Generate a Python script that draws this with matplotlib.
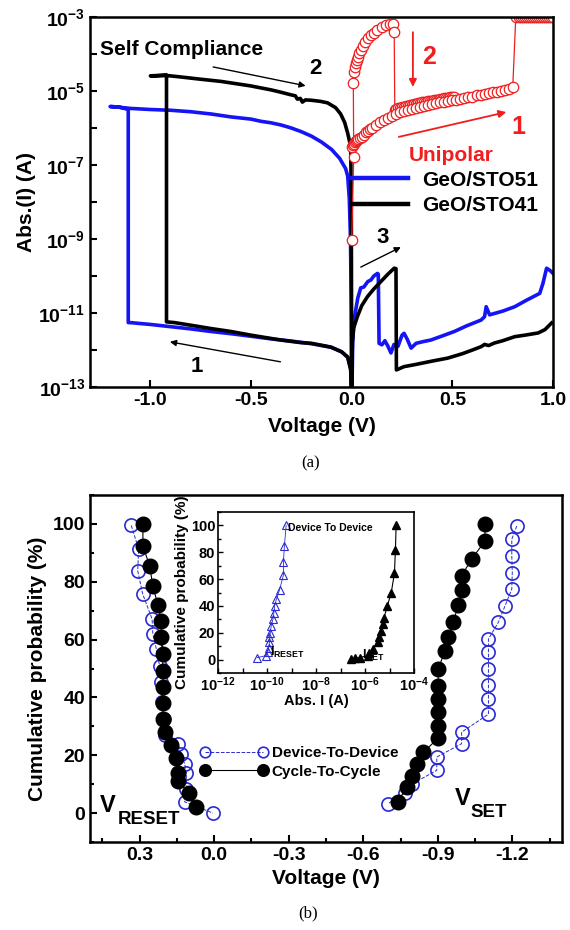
import matplotlib
matplotlib.use('Agg')
import matplotlib.pyplot as plt
import numpy as np
from matplotlib.ticker import FixedLocator, FuncFormatter, MultipleLocator, NullLocator

plt.rcParams['font.family'] = ['Liberation Sans', 'DejaVu Sans']
plt.rcParams['font.weight'] = 'bold'
plt.rcParams['axes.labelweight'] = 'bold'
plt.rcParams['axes.unicode_minus'] = False
plt.rcParams['mathtext.fontset'] = 'custom'
plt.rcParams['mathtext.rm'] = 'Liberation Sans:bold'
plt.rcParams['mathtext.bf'] = 'Liberation Sans:bold'
plt.rcParams['mathtext.it'] = 'Liberation Sans:bold'

# ---------------- panel (a): I-V curves, current given as log10(|I|) ----------------
# GeO/STO51 (blue): HRS 0 -> -1.2, set, LRS back to 0, then positive sweep
sto51_v = [0.0, -0.005, -0.02, -0.05, -0.1, -0.2, -0.3, -0.4, -0.5, -0.6, -0.7, -0.8, -0.9, -1.0, -1.1, -1.11,
           -1.11, -1.15, -1.2,
           -1.19, -1.1, -1.0, -0.9, -0.8, -0.7, -0.6, -0.5, -0.45, -0.4, -0.35, -0.3, -0.25, -0.2, -0.15, -0.1,
           -0.06, -0.03, -0.02, -0.012, -0.006, -0.002, 0.0,
           0.005, 0.01, 0.02, 0.03, 0.045, 0.06, 0.08, 0.095, 0.11, 0.128, 0.132,
           0.136, 0.15, 0.165, 0.18, 0.195, 0.21, 0.23, 0.25, 0.26, 0.275, 0.295, 0.32, 0.35, 0.394, 0.45,
           0.51, 0.57, 0.643, 0.66, 0.668, 0.685, 0.75, 0.81, 0.87, 0.934, 0.95, 0.968, 0.985, 1.0]
sto51_log = [-13.5, -12.5, -12.2, -12.05, -11.93, -11.83, -11.76, -11.7, -11.63, -11.56, -11.5, -11.43, -11.37,
             -11.31, -11.26, -11.26,
             -5.5, -5.44, -5.42,
             -5.42, -5.47, -5.5, -5.52, -5.56, -5.62, -5.7, -5.76, -5.82, -5.86, -5.92, -6.0, -6.1, -6.22, -6.38,
             -6.58, -6.82, -7.1, -7.3, -7.9, -9.0, -11.0, -13.5,
             -11.8, -11.3, -10.92, -10.6, -10.32, -10.3, -10.15, -10.11, -10.0, -9.93, -9.95,
             -11.82, -11.86, -11.75, -11.9, -12.08, -11.85, -11.9, -11.6, -11.55, -11.7, -11.95, -11.82, -11.78,
             -11.73, -11.62, -11.5, -11.35, -11.19, -11.1, -10.83, -11.05, -10.95, -10.83, -10.65, -10.47, -10.2,
             -9.79, -9.85, -9.93]

# GeO/STO41 (black)
sto41_v = [0.0, -0.005, -0.02, -0.05, -0.105, -0.2, -0.254, -0.354, -0.5, -0.6, -0.7, -0.8, -0.88, -0.92,
           -0.92, -0.96, -1.0,
           -0.98, -0.92, -0.85, -0.753, -0.65, -0.504, -0.4, -0.354, -0.304, -0.28, -0.27, -0.255, -0.245, -0.23,
           -0.2, -0.155, -0.12, -0.08, -0.055, -0.035, -0.02, -0.005, -0.002, 0.0,
           0.003, 0.01, 0.028, 0.05, 0.078, 0.11, 0.145, 0.18, 0.211, 0.22,
           0.222, 0.26, 0.31, 0.4, 0.477, 0.55, 0.6, 0.643, 0.66, 0.68, 0.71, 0.75, 0.81, 0.86, 0.926, 0.96, 0.993]
sto41_log = [-13.2, -12.54, -12.19, -12.05, -11.92, -11.82, -11.8, -11.73, -11.6, -11.5, -11.42, -11.33, -11.26,
             -11.24,
             -4.57, -4.58, -4.59,
             -4.59, -4.58, -4.62, -4.68, -4.74, -4.86, -4.97, -5.03, -5.1, -5.13, -5.22, -5.2, -5.3, -5.24,
             -5.25, -5.28, -5.32, -5.45, -5.62, -5.85, -6.14, -6.5, -8.0, -13.2,
             -11.8, -11.4, -11.1, -10.8, -10.56, -10.35, -10.15, -9.95, -9.79, -9.8,
             -12.54, -12.45, -12.4, -12.3, -12.22, -12.1, -12.0, -11.91, -11.85, -11.88, -11.81, -11.75, -11.64,
             -11.6, -11.54, -11.45, -11.27]

# unipolar (red): reset sweep and set sweep
uni_reset_v = [0.0, 0.01, 0.008, 0.012, 0.016, 0.02, 0.025, 0.03, 0.036, 0.045, 0.055, 0.065, 0.08, 0.095, 0.11,
               0.128, 0.15, 0.17, 0.19, 0.203, 0.211, 0.214,
               0.22, 0.23, 0.24, 0.25, 0.26, 0.27, 0.28, 0.29, 0.30, 0.31, 0.32, 0.33, 0.34, 0.35, 0.36, 0.37,
               0.38, 0.39, 0.40, 0.41, 0.42, 0.43, 0.44, 0.45, 0.46, 0.47, 0.48, 0.49, 0.50, 0.51]
uni_reset_log = [-9.03, -6.78, -4.79, -4.48, -4.35, -4.25, -4.15, -4.07, -3.98, -3.88, -3.78, -3.68, -3.58, -3.49,
                 -3.42, -3.35, -3.28, -3.22, -3.19, -3.18, -3.40, -5.51,
                 -5.49, -5.47, -5.46, -5.44, -5.43, -5.41, -5.40, -5.38, -5.37, -5.36, -5.35, -5.33, -5.32, -5.31,
                 -5.30, -5.29, -5.28, -5.27, -5.26, -5.25, -5.24, -5.23, -5.22, -5.21, -5.20, -5.19, -5.18, -5.17,
                 -5.16, -5.15]
uni_set_v = [0.003, 0.006, 0.01, 0.015, 0.02, 0.025, 0.03, 0.04, 0.05, 0.06, 0.07, 0.08, 0.09, 0.10, 0.12, 0.14,
             0.16, 0.18, 0.20, 0.22, 0.24, 0.26, 0.28, 0.30, 0.32, 0.34, 0.36, 0.38, 0.40, 0.42, 0.44, 0.46, 0.48,
             0.50, 0.52, 0.54, 0.56, 0.58, 0.60, 0.62, 0.64, 0.66, 0.68, 0.70, 0.72, 0.74, 0.76, 0.78, 0.80,
             0.815, 0.83, 0.84, 0.85, 0.86, 0.87, 0.88, 0.89, 0.90, 0.91, 0.92, 0.93, 0.94, 0.95, 0.96, 0.97,
             0.98, 0.99, 1.0]
uni_set_log = [-6.50, -6.46, -6.42, -6.38, -6.35, -6.32, -6.30, -6.27, -6.24, -6.18, -6.12, -6.07, -6.03, -6.00,
               -5.92, -5.85, -5.78, -5.72, -5.67, -5.62, -5.58, -5.54, -5.51, -5.48, -5.45, -5.42, -5.40, -5.37,
               -5.35, -5.33, -5.31, -5.29, -5.27, -5.25, -5.23, -5.21, -5.19, -5.17, -5.15, -5.12, -5.10, -5.08,
               -5.06, -5.04, -5.02, -5.00, -4.97, -4.94, -4.90,
               -3.0, -3.0, -3.0, -3.0, -3.0, -3.0, -3.0, -3.0, -3.0, -3.0, -3.0, -3.0, -3.0, -3.0, -3.0, -3.0,
               -3.0, -3.0, -3.0]

# ---------------- panel (b): cumulative probability ----------------
d2d_reset_v = [0.334, 0.304, 0.308, 0.288, 0.25, 0.247, 0.233, 0.22, 0.213, 0.209, 0.204, 0.2, 0.146, 0.133,
               0.119, 0.112, 0.112, 0.119, 0.005]
d2d_reset_p = [99.5, 91.3, 83.8, 75.8, 67.1, 62, 56.8, 51, 45.3, 38.4, 32.6, 26.9, 24, 20.6, 17, 14, 8.5, 3.9, 0]
c2c_reset_v = [0.287, 0.287, 0.26, 0.247, 0.227, 0.213, 0.213, 0.207, 0.207, 0.207, 0.207, 0.207, 0.2, 0.173,
               0.153, 0.146, 0.146, 0.1, 0.072]
c2c_reset_p = [100, 92.4, 85.5, 78.6, 72, 66.5, 61, 55, 49, 43.5, 38, 32.6, 28, 23.4, 18.9, 14, 11, 6.8, 2]
d2d_set_v = [-1.218, -1.198, -1.198, -1.2, -1.198, -1.171, -1.144, -1.104, -1.104, -1.104, -1.104, -1.104,
             -1.104, -0.996, -0.996, -0.896, -0.896, -0.795, -0.77, -0.70]
d2d_set_p = [99.3, 94.7, 89, 83.2, 77.5, 71.7, 66, 60.2, 55.6, 50, 44.3, 39.5, 34.2, 28, 24, 19.4, 14.8, 10, 7,
             3.3]
c2c_set_v = [-1.09, -1.09, -1.037, -0.996, -0.996, -0.983, -0.962, -0.942, -0.929, -0.902, -0.902, -0.902,
             -0.902, -0.902, -0.902, -0.842, -0.815, -0.795, -0.775, -0.74]
c2c_set_p = [100, 94, 88, 82, 77, 72, 66, 61, 56, 50, 44, 39.5, 35, 30, 26, 21, 17, 13, 9, 4]

# inset: log10(I) vs cumulative probability
ireset_log = [-9.22, -9.29, -9.33, -9.33, -9.49, -9.62, -9.69, -9.72, -9.76, -9.83, -9.87, -9.9, -9.9, -9.93,
              -9.97, -10.03, -10.4]
ireset_p = [100, 85, 73, 63, 52, 45, 40, 35, 30, 25, 20, 17, 13, 9, 6, 3, 1.5]
iset_log = [-4.73, -4.76, -4.80, -4.93, -5.09, -5.23, -5.27, -5.34, -5.41, -5.48, -5.68, -5.82, -5.89, -6.22,
            -6.43, -6.56]
iset_p = [100.5, 82, 64.5, 50, 40, 31, 26.5, 21.5, 17, 13, 8, 5, 3, 1.5, 1, 0.5]

blue = '#1414f5'
blue2 = '#2a2ad2'
red = '#f01e1e'

fig = plt.figure(figsize=(5.7, 9.3), dpi=100)

# ---------------- (a) ----------------
ax1 = fig.add_axes([0.1579, 0.5839, 0.8123, 0.3978])
ax1.plot(sto51_v, np.power(10.0, sto51_log), color=blue, lw=2.6, label='GeO/STO51')
ax1.plot(sto41_v, np.power(10.0, sto41_log), color='k', lw=2.6, label='GeO/STO41')
ax1.plot(uni_reset_v, np.power(10.0, uni_reset_log), color=red, lw=0.9, marker='o', ms=7.5,
         mfc='white', mec=red, mew=0.9)
ax1.plot(uni_set_v, np.power(10.0, uni_set_log), color=red, lw=0.9, marker='o', ms=7.5,
         mfc='white', mec=red, mew=0.9)
ax1.set_yscale('log')
ax1.set_xlim(-1.3, 1.0)
ax1.set_ylim(1e-13, 1e-3)
ax1.xaxis.set_major_locator(FixedLocator([-1.0, -0.5, 0.0, 0.5, 1.0]))
ax1.xaxis.set_major_formatter(FuncFormatter(lambda v, p: f'{v:.1f}'))
ax1.yaxis.set_major_locator(FixedLocator([10.0 ** e for e in range(-13, -2)]))
ax1.yaxis.set_minor_locator(NullLocator())


def odd_exp(v, p):
    e = int(round(np.log10(v)))
    return r'$10^{%d}$' % e if e % 2 else ''


ax1.yaxis.set_major_formatter(FuncFormatter(odd_exp))
ax1.tick_params(direction='in', length=5, width=1.5, labelsize=14, top=False, right=False)
for s in ax1.spines.values():
    s.set_linewidth(1.8)
ax1.set_xlabel('Voltage (V)', fontsize=15, labelpad=6)
ax1.set_ylabel('Abs.(I) (A)', fontsize=15, labelpad=2)

leg1 = ax1.legend(loc='upper left', bbox_to_anchor=(0.566, 0.585), frameon=False, fontsize=15,
                  handlelength=2.7, handletextpad=0.65, labelspacing=0.3, borderpad=0, borderaxespad=0)
for h in leg1.get_lines():
    h.set_linewidth(3.2)

arr_k = dict(arrowstyle='-|>', color='k', lw=1.0, mutation_scale=9, shrinkA=0, shrinkB=0)
arr_r = dict(arrowstyle='-|>', color=red, lw=1.3, mutation_scale=11, shrinkA=0, shrinkB=0)
ax1.text(-1.25, 10 ** -3.89, 'Self Compliance', fontsize=15, va='center', ha='left')
ax1.annotate('', xy=(-0.229, 10 ** -4.86), xytext=(-0.688, 10 ** -4.35), arrowprops=arr_k)
ax1.text(-0.18, 10 ** -4.38, '2', fontsize=16, va='center', ha='center')
ax1.annotate('', xy=(-0.903, 10 ** -11.78), xytext=(-0.354, 10 ** -12.32), arrowprops=arr_k)
ax1.text(-0.768, 10 ** -12.46, '1', fontsize=16, va='center', ha='center')
ax1.annotate('', xy=(0.244, 10 ** -9.22), xytext=(0.045, 10 ** -9.76), arrowprops=arr_k)
ax1.text(0.155, 10 ** -8.97, '3', fontsize=16, va='center', ha='center')
ax1.annotate('', xy=(0.304, 10 ** -4.89), xytext=(0.304, 10 ** -3.41), arrowprops=arr_r)
ax1.text(0.384, 10 ** -4.08, '2', fontsize=18, va='center', ha='center', color=red)
ax1.annotate('', xy=(0.768, 10 ** -5.57), xytext=(0.234, 10 ** -6.24), arrowprops=arr_r)
ax1.text(0.828, 10 ** -5.97, '1', fontsize=18, va='center', ha='center', color=red)
ax1.text(0.284, 10 ** -6.73, 'Unipolar', fontsize=15, va='center', ha='left', color=red)

fig.text(0.544, 1 - 463 / 930, '(a)', fontsize=12, ha='center', va='center',
         family='Liberation Serif', weight='normal')

# ---------------- (b) ----------------
ax2 = fig.add_axes([0.1579, 0.0946, 0.828, 0.3731])
l_d2d, = ax2.plot(d2d_reset_v, d2d_reset_p, ls='--', color=blue2, lw=0.7, marker='o', ms=9.5,
                  mfc='none', mec=blue2, mew=1.2, label='Device-To-Device')
ax2.plot(d2d_set_v, d2d_set_p, ls='--', color=blue2, lw=0.7, marker='o', ms=9.5,
         mfc='none', mec=blue2, mew=1.2)
l_c2c, = ax2.plot(c2c_reset_v, c2c_reset_p, ls='-', color='k', lw=0.8, marker='o', ms=10.5,
                  mfc='k', mec='k', label='Cycle-To-Cycle')
ax2.plot(c2c_set_v, c2c_set_p, ls='-', color='k', lw=0.8, marker='o', ms=10.5, mfc='k', mec='k')
ax2.set_xlim(0.5, -1.4)
ax2.set_ylim(-10, 110)
ax2.xaxis.set_major_locator(FixedLocator([0.3, 0.0, -0.3, -0.6, -0.9, -1.2]))
ax2.xaxis.set_minor_locator(FixedLocator([0.45, 0.15, -0.15, -0.45, -0.75, -1.05, -1.35]))
ax2.xaxis.set_major_formatter(FuncFormatter(lambda v, p: f'{v:.1f}'))
ax2.yaxis.set_major_locator(MultipleLocator(20))
ax2.yaxis.set_minor_locator(MultipleLocator(10))
ax2.set_yticks([0, 20, 40, 60, 80, 100])
ax2.tick_params(which='both', direction='in', width=1.5, labelsize=14, top=False, right=False)
ax2.tick_params(which='major', length=5)
ax2.tick_params(which='minor', length=3)
for s in ax2.spines.values():
    s.set_linewidth(1.8)
ax2.set_xlabel('Voltage (V)', fontsize=15, labelpad=4)
ax2.set_ylabel('Cumulative probability (%)', fontsize=15, labelpad=4)
ax2.legend(handles=[l_d2d, l_c2c], loc='upper left', bbox_to_anchor=(0.233, 0.276), frameon=False,
           fontsize=11, numpoints=2, markerscale=0.8, handlelength=4.4, handletextpad=0.3,
           labelspacing=0.3, borderpad=0, borderaxespad=0)

ax2.text(0.462, 0.3, 'V', fontsize=17, ha='left', va='baseline')
ax2.text(0.39, -3.8, 'RESET', fontsize=13.5, ha='left', va='baseline')
ax2.text(-0.97, 2.8, 'V', fontsize=17, ha='left', va='baseline')
ax2.text(-1.03, -1.4, 'SET', fontsize=13.5, ha='left', va='baseline')

fig.text(0.54, 1 - 913 / 930, '(b)', fontsize=12, ha='center', va='center',
         family='Liberation Serif', weight='normal')

# ---------------- inset ----------------
ax3 = fig.add_axes([0.3825, 0.2763, 0.3439, 0.1731])
ax3.plot(np.power(10.0, ireset_log), ireset_p, ls='-', color=blue2, lw=0.6, marker='^', ms=5.5,
         mfc='none', mec=blue2, mew=0.8)
ax3.plot(np.power(10.0, iset_log), iset_p, ls='-', color='k', lw=0.8, marker='^', ms=5.5,
         mfc='k', mec='k')
ax3.set_xscale('log')
ax3.set_xlim(1e-12, 1e-4)
ax3.set_ylim(-10, 110)
ax3.xaxis.set_major_locator(FixedLocator([10.0 ** e for e in range(-12, -3)]))
ax3.xaxis.set_minor_locator(NullLocator())


def even_exp(v, p):
    e = int(round(np.log10(v)))
    return r'$10^{%d}$' % e if e % 2 == 0 else ''


ax3.xaxis.set_major_formatter(FuncFormatter(even_exp))
ax3.yaxis.set_major_locator(MultipleLocator(20))
ax3.yaxis.set_minor_locator(MultipleLocator(10))
ax3.set_yticks([0, 20, 40, 60, 80, 100])
ax3.tick_params(which='both', direction='in', width=1.0, labelsize=10.5, top=False, right=False, pad=2)
ax3.tick_params(which='major', length=3.5)
ax3.tick_params(which='minor', length=2)
for s in ax3.spines.values():
    s.set_linewidth(1.2)
ax3.set_xlabel('Abs. I (A)', fontsize=10.5, labelpad=0)
ax3.set_ylabel('Cumulative probability (%)', fontsize=11, labelpad=1)
ax3.text(0.357, 0.90, 'Device To Device', transform=ax3.transAxes, fontsize=7.5, ha='left', va='center')
ax3.text(0.265, 0.105, r'$I_{RESET}$', transform=ax3.transAxes, fontsize=9, ha='left', va='baseline')
ax3.text(0.735, 0.09, r'$I_{SET}$', transform=ax3.transAxes, fontsize=9, ha='left', va='baseline')

fig.savefig('out.png', dpi=100)
